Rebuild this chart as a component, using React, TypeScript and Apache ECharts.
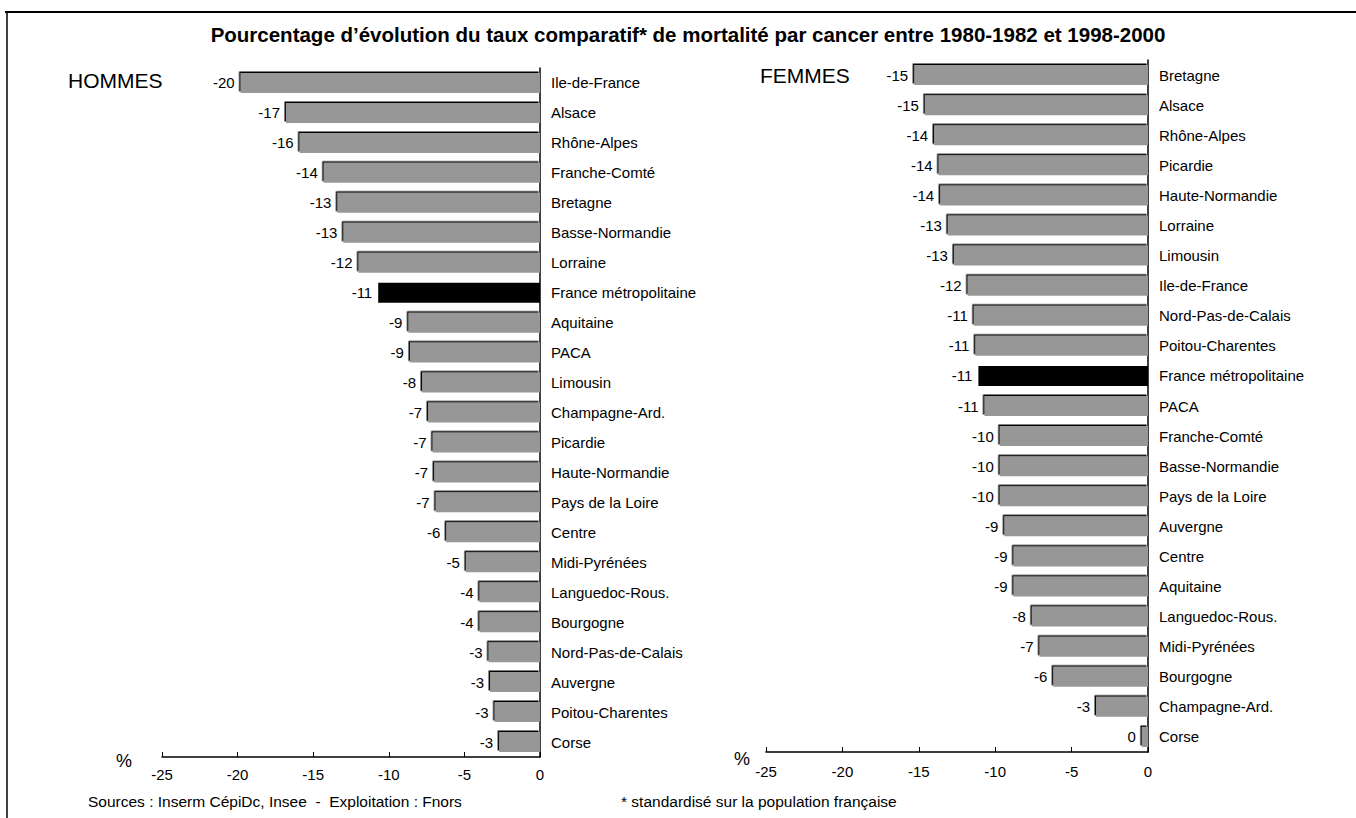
import React, { useEffect, useRef } from "react";
import * as echarts from "echarts";

// Régions, hommes (ordre d'affichage, de haut en bas)
const menRegions = [
  "Ile-de-France", "Alsace", "Rhône-Alpes", "Franche-Comté", "Bretagne",
  "Basse-Normandie", "Lorraine", "France métropolitaine", "Aquitaine", "PACA",
  "Limousin", "Champagne-Ard.", "Picardie", "Haute-Normandie", "Pays de la Loire",
  "Centre", "Midi-Pyrénées", "Languedoc-Rous.", "Bourgogne", "Nord-Pas-de-Calais",
  "Auvergne", "Poitou-Charentes", "Corse",
];
const menValues = [
  -19.8, -16.8, -15.9, -14.3, -13.4,
  -13.0, -12.0, -10.7, -8.7, -8.6,
  -7.8, -7.4, -7.1, -7.0, -6.9,
  -6.2, -4.9, -4.0, -4.0, -3.4,
  -3.3, -3.0, -2.7,
];

// Régions, femmes
const womenRegions = [
  "Bretagne", "Alsace", "Rhône-Alpes", "Picardie", "Haute-Normandie",
  "Lorraine", "Limousin", "Ile-de-France", "Nord-Pas-de-Calais", "Poitou-Charentes",
  "France métropolitaine", "PACA", "Franche-Comté", "Basse-Normandie", "Pays de la Loire",
  "Auvergne", "Centre", "Aquitaine", "Languedoc-Rous.", "Midi-Pyrénées",
  "Bourgogne", "Champagne-Ard.", "Corse",
];
const womenValues = [
  -15.3, -14.6, -14.0, -13.7, -13.6,
  -13.1, -12.7, -11.8, -11.4, -11.3,
  -11.1, -10.7, -9.7, -9.7, -9.7,
  -9.4, -8.8, -8.8, -7.6, -7.1,
  -6.2, -3.4, -0.4,
];

const axisTicks = [-25, -20, -15, -10, -5, 0];

const TOTAL = "France métropolitaine";
const FONT = "'Liberation Sans', Arial, Helvetica, sans-serif";
const GREY = "#979797";

function barData(regions: string[], values: number[]) {
  return values.map((v, i) => ({
    value: v,
    itemStyle:
      regions[i] === TOTAL
        ? { color: "#000", shadowBlur: 0, shadowOffsetX: 0, shadowOffsetY: 0, shadowColor: "transparent" }
        : undefined,
  }));
}

export default function App() {
  const ref = useRef<HTMLDivElement>(null);

  useEffect(() => {
    if (!ref.current) return;
    const chart = echarts.init(ref.current, null, { renderer: "svg" });

    const valueAxis = (gridIndex: number, margin: number) => ({
      type: "value" as const,
      gridIndex,
      min: axisTicks[0],
      max: axisTicks[axisTicks.length - 1],
      interval: 5,
      axisLine: { show: true, onZero: false, lineStyle: { color: "#000", width: 1.5 } },
      axisTick: { show: true, inside: true, length: 5, lineStyle: { color: "#000" } },
      axisLabel: { color: "#000", fontSize: 15, fontFamily: FONT, margin },
      splitLine: { show: false },
    });

    const catAxis = (gridIndex: number, data: string[]) => ({
      type: "category" as const,
      gridIndex,
      data,
      inverse: true,
      position: "right" as const,
      axisLine: { show: true, lineStyle: { color: "#000", width: 1.5 } },
      axisTick: { show: false },
      axisLabel: { color: "#000", fontSize: 15, fontFamily: FONT, margin: 11 },
    });

    const barSeries = (idx: number, regions: string[], values: number[]) => ({
      type: "bar" as const,
      xAxisIndex: idx,
      yAxisIndex: idx,
      data: barData(regions, values),
      barWidth: 20,
      itemStyle: {
        color: GREY,
        shadowColor: "#000",
        shadowBlur: 0,
        shadowOffsetX: -1.5,
        shadowOffsetY: -1.5,
      },
      label: {
        show: true,
        position: "left" as const,
        distance: 6,
        color: "#000",
        fontSize: 15,
        fontFamily: FONT,
        formatter: (p: any) => String(Math.round(p.value) || 0),
      },
    });

    const footStyle = { fontSize: 15.5, fontFamily: FONT, fill: "#000", verticalAlign: "middle" as const };

    chart.setOption({
      animation: false,
      backgroundColor: "#fff",
      textStyle: { fontFamily: FONT },
      grid: [
        { left: 162, right: 816, top: 68, height: 689 },
        { left: 766, right: 208, top: 60, height: 692 },
      ],
      xAxis: [valueAxis(0, 10), valueAxis(1, 12)],
      yAxis: [catAxis(0, menRegions), catAxis(1, womenRegions)],
      series: [barSeries(0, menRegions, menValues), barSeries(1, womenRegions, womenValues)],
      graphic: [
        { type: "line", shape: { x1: 5, y1: 12, x2: 1356, y2: 12 }, style: { stroke: "#000", lineWidth: 2 } },
        { type: "line", shape: { x1: 7, y1: 12, x2: 7, y2: 818 }, style: { stroke: "#000", lineWidth: 1.5 } },
        {
          type: "text", x: 688, y: 34,
          style: {
            text: "Pourcentage d’évolution du taux comparatif* de mortalité par cancer entre 1980-1982 et 1998-2000",
            fontSize: 20.5, fontWeight: "bold", fontFamily: FONT, fill: "#000",
            align: "center", verticalAlign: "middle",
          },
        },
        {
          type: "text", x: 68, y: 80,
          style: { text: "HOMMES", fontSize: 21, fontFamily: FONT, fill: "#000", verticalAlign: "middle" },
        },
        {
          type: "text", x: 760, y: 75,
          style: { text: "FEMMES", fontSize: 21, fontFamily: FONT, fill: "#000", verticalAlign: "middle" },
        },
        {
          type: "text", x: 116, y: 761,
          style: { text: "%", fontSize: 18, fontFamily: FONT, fill: "#000", verticalAlign: "middle" },
        },
        {
          type: "text", x: 734, y: 759,
          style: { text: "%", fontSize: 18, fontFamily: FONT, fill: "#000", verticalAlign: "middle" },
        },
        {
          type: "text", x: 88, y: 801,
          style: { ...footStyle, text: "Sources : Inserm CépiDc, Insee  -  Exploitation : Fnors" },
        },
        {
          type: "text", x: 621, y: 801,
          style: { ...footStyle, text: "* standardisé sur la population française" },
        },
      ],
    });

    return () => chart.dispose();
  }, []);

  return (
    <div
      ref={ref}
      style={{ position: "absolute", left: 0, top: 0, width: 1356, height: 818 }}
    />
  );
}
